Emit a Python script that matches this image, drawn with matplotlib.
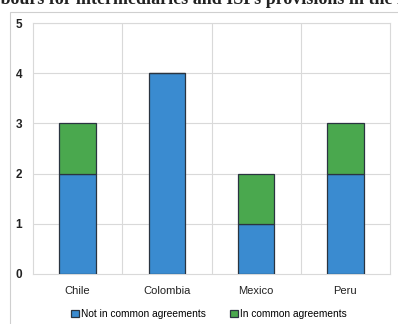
import matplotlib
matplotlib.use("Agg")
import matplotlib.pyplot as plt
from matplotlib.patches import Rectangle
import numpy as np

countries = ["Chile", "Colombia", "Mexico", "Peru"]
not_common = [2, 4, 1, 2]
in_common = [1, 0, 1, 1]
series_labels = ["Not in common agreements", "In common agreements"]

BLUE = "#3a8bd0"
GREEN = "#4aa84e"
EDGE = "#2a3440"
GRID = "#d9d9d9"

plt.rcParams["font.family"] = ["Liberation Sans", "DejaVu Sans"]

fig = plt.figure(figsize=(3.98, 3.24), dpi=100)
fig.patch.set_facecolor("white")

# outer chart frame (extends past the right/bottom edge)
fig.add_artist(Rectangle((10 / 398, -0.05), 1.0, 1 - 12 / 324 + 0.05,
                         transform=fig.transFigure, facecolor="none",
                         edgecolor="#cfcfcf", linewidth=0.8))

# heading sits above the frame and runs past the edges; shift it so the
# word "harbours" is split at the left edge
head_kw = dict(va="baseline", fontsize=13, fontweight="bold",
               family="Liberation Serif", color="#222222")
probe = fig.text(0, 0, "Safe har", **head_kw)
fig.canvas.draw()
lead = probe.get_window_extent().width / fig.bbox.width
probe.remove()
fig.text(-lead, 1 - 4.5 / 324,
         "Safe harbours for intermediaries and ISPs provisions in the FTAs",
         ha="left", **head_kw)

ax = fig.add_axes([33 / 398, 1 - 274 / 324, (390 - 33) / 398, (274 - 23) / 324])
x = np.arange(len(countries))
w = 0.41
ax.bar(x, not_common, w, color=BLUE, edgecolor=EDGE, linewidth=0.9,
       label=series_labels[0], zorder=3)
ax.bar(x, in_common, w, bottom=not_common, color=GREEN, edgecolor=EDGE,
       linewidth=0.9, label=series_labels[1], zorder=3)

ax.set_xlim(-0.5, len(countries) - 0.5)
ax.set_ylim(0, 5)
ax.set_yticks(range(6))
ax.set_xticks(x)
ax.set_xticklabels(countries, fontsize=8, color="#222222")
ax.tick_params(axis="y", labelsize=8.5, labelcolor="#222222", length=0, pad=8)
ax.tick_params(axis="x", length=0, pad=9)
for lab in ax.get_yticklabels():
    lab.set_fontweight("bold")

for y in range(1, 6):
    ax.axhline(y, color=GRID, linewidth=0.8, zorder=1)
for b in np.arange(0.5, len(countries) - 0.5):
    ax.axvline(b, color=GRID, linewidth=0.8, zorder=1)
for s in ax.spines.values():
    s.set_color(GRID)
    s.set_linewidth(0.8)

leg = fig.legend(loc="center", bbox_to_anchor=(0.525, 1 - 314 / 324), ncol=2,
                 frameon=False, fontsize=7.3, handlelength=0.75, handleheight=0.75,
                 handletextpad=0.2, columnspacing=2.4)

fig.savefig("out.png", dpi=100)
